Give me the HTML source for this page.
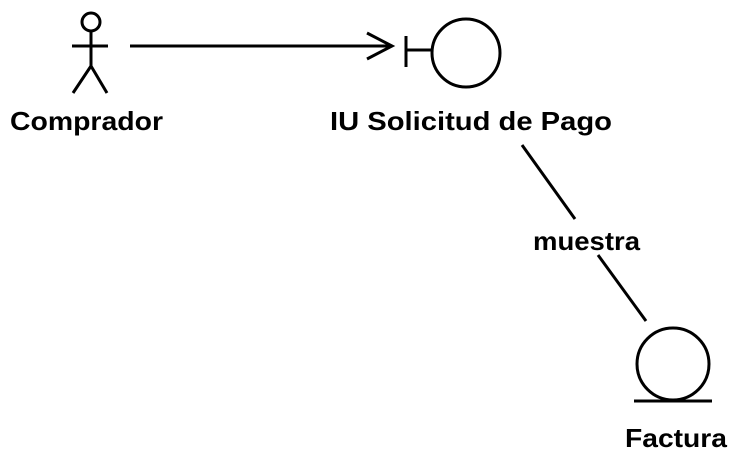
<!DOCTYPE html>
<html><head><style>
html,body{margin:0;padding:0;background:#fff;}
svg{display:block}
text{font-family:"Liberation Sans",sans-serif;font-weight:bold;fill:#000}
</style></head><body>
<svg width="742" height="457" viewBox="0 0 742 457" xmlns="http://www.w3.org/2000/svg">
<g stroke="#000" stroke-width="3" fill="none">
<circle cx="91" cy="22" r="9"/>
<line x1="91" y1="31" x2="91" y2="66"/>
<line x1="72" y1="46" x2="108" y2="46"/>
<line x1="91" y1="66" x2="73" y2="93"/>
<line x1="91" y1="66" x2="107" y2="93"/>
<line x1="130" y1="46" x2="391" y2="46"/>
<polyline points="367,33 392,46 367,59"/>
<line x1="406" y1="36" x2="406" y2="67"/>
<line x1="406" y1="50" x2="432" y2="50"/>
<circle cx="466" cy="53" r="34"/>
<line x1="522" y1="145" x2="575" y2="219"/>
<line x1="598" y1="255" x2="646" y2="321"/>
<circle cx="673" cy="364" r="36"/>
<line x1="634" y1="401" x2="712" y2="401"/>
</g>
<text x="10" y="130" font-size="26" textLength="153" lengthAdjust="spacingAndGlyphs">Comprador</text>
<text x="330" y="130" font-size="26" textLength="282" lengthAdjust="spacingAndGlyphs">IU Solicitud de Pago</text>
<text x="533" y="250" font-size="26" textLength="107" lengthAdjust="spacingAndGlyphs">muestra</text>
<text x="625" y="447" font-size="26" textLength="102" lengthAdjust="spacingAndGlyphs">Factura</text>
</svg>
</body></html>
